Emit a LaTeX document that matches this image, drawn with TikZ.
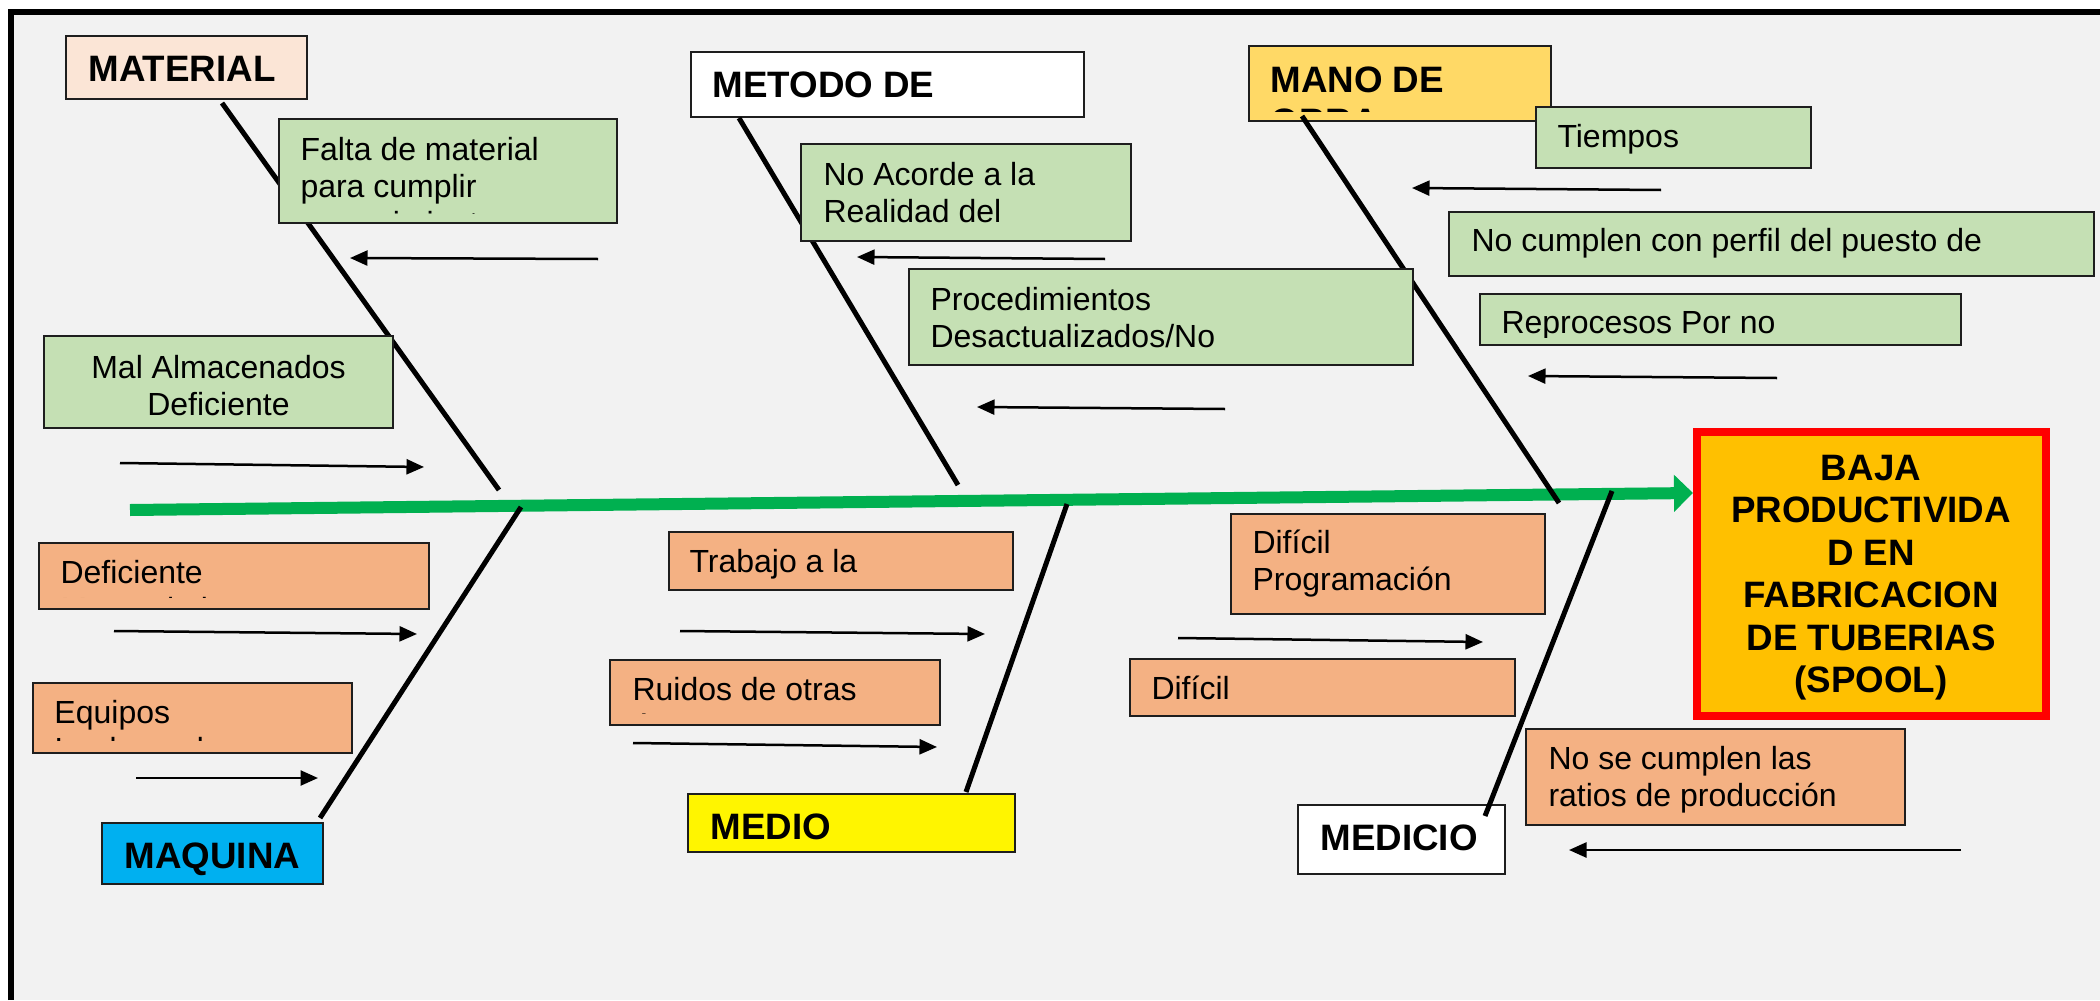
\documentclass[tikz,border=0pt]{standalone}
\usepackage{fontspec}
\setmainfont{Liberation Sans}
\usetikzlibrary{arrows.meta,fit}
\definecolor{bggrey}{HTML}{F2F2F2}
\definecolor{cgreen}{HTML}{C5E0B4}
\definecolor{corange}{HTML}{F4B183}
\definecolor{cpeach}{HTML}{FBE5D6}
\definecolor{cgold}{HTML}{FFD966}
\definecolor{ccyan}{HTML}{00B0F0}
\definecolor{cyel}{HTML}{FFF500}
\definecolor{camber}{HTML}{FFC000}
\definecolor{cspine}{HTML}{00B050}
\definecolor{cred}{HTML}{FF0000}
\definecolor{cedge}{HTML}{1E1E1E}
\newcommand\ctr[1]{\hbox to 0pt{\hss#1\hss}}
\begin{document}
\begin{tikzpicture}[x=0.4pt,y=-0.4pt,
  box/.style={draw=cedge, line width=0.6pt, inner sep=0pt},
  reg/.style={inner sep=0pt, anchor=base west, font=\fontsize{12.8}{14.8}\selectfont},
  bld/.style={inner sep=0pt, anchor=base west, font=\fontsize{14.7}{17}\selectfont\bfseries},
  bone/.style={line width=2pt, black},
  cause/.style={line width=1pt, black, -{Triangle[length=7pt,width=6pt]}},
  spine/.style={line width=4.8pt, cspine, -{Triangle[length=7.6pt,width=14.4pt]}},
]
% background and frame
\fill[white] (0,0) rectangle (2100,1000);
\useasboundingbox (0,0) rectangle (2100,1000);
\fill[bggrey] (11,12) rectangle (2100,1000);
\draw[line width=2.4pt, line join=miter] (11,1000) -- (11,12) -- (2100,12);

% spine
\coordinate (spS) at (130,510);
\coordinate (spE) at (1693,493);
\draw[spine] (spS) -- (spE);

% category boxes
\node[box, fill=cpeach, fit={(66,36) (307,99)}] (material) {};
\node[bld] (tmaterial) at (88,81) {MATERIAL};
\node[box, fill=white, fit={(691,52) (1084,117)}] (metodo) {};
\node[bld] (tmetodo) at (712,97) {METODO DE};
\node[box, fill=cgold, fit={(1249,46) (1551,121)}] (mano) {};
\begin{scope}
\clip (1249,46) rectangle (1551,111);
\node[bld] (tmano) at (1270,92) {\vtop{\hbox{MANO DE}\hbox{OBRA}}};
\end{scope}
\node[box, fill=ccyan, fit={(102,823) (323,884)}] (maquina) {};
\node[bld, anchor=base] (tmaquina) at (212.5,868) {MAQUINA};
\node[box, fill=cyel, fit={(688,794) (1015,852)}] (medio) {};
\node[bld] (tmedio) at (710,839) {MEDIO};
\node[box, fill=white, fit={(1298,805) (1505,874)}] (medicio) {};
\node[bld] (tmedicio) at (1320,850) {MEDICIO};

% bones
\coordinate (b1s) at (222,103);  \coordinate (b1e) at (499,490);
\coordinate (b2s) at (320,818);  \coordinate (b2e) at (521,507);
\coordinate (b3s) at (739,118);  \coordinate (b3e) at (958,485);
\coordinate (b4s) at (966,792);  \coordinate (b4e) at (1067,504);
\coordinate (b5s) at (1302,116); \coordinate (b5e) at (1559,503);
\coordinate (b6s) at (1485,816); \coordinate (b6e) at (1612,491);
\draw[bone] (b1s) -- (b1e);
\draw[bone] (b2s) -- (b2e);
\draw[bone] (b3s) -- (b3e);
\draw[bone] (b4s) -- (b4e);
\draw[bone] (b5s) -- (b5e);
\draw[bone] (b6s) -- (b6e);

% cause boxes (green)
\node[box, fill=cgreen, fit={(279,119) (617,223)}] (falta) {};
\begin{scope}
\clip (279,119) rectangle (617,213);
\node[reg] (tfalta) at (300,160) {\vtop{\hbox{Falta de material}\hbox{para cumplir}\hbox{requerimientos}}};
\end{scope}
\node[box, fill=cgreen, fit={(44,336) (393,428)}] (mal) {};
\node[reg, anchor=base] (tmal) at (218.5,378) {\vtop{\ctr{Mal Almacenados}\ctr{Deficiente}}};
\node[box, fill=cgreen, fit={(801,144) (1131,241)}] (acorde) {};
\node[reg] (tacorde) at (823,185) {\vtop{\hbox{No Acorde a la}\hbox{Realidad del}}};
\node[box, fill=cgreen, fit={(909,269) (1413,365)}] (proc) {};
\node[reg] (tproc) at (930,310) {\vtop{\hbox{Procedimientos}\hbox{Desactualizados/No}}};
\node[box, fill=cgreen, fit={(1536,107) (1811,168)}] (tiempos) {};
\node[reg] (ttiempos) at (1557,147) {Tiempos};
\node[box, fill=cgreen, fit={(1449,212) (2094,276)}] (perfil) {};
\node[reg] (tperfil) at (1471,251) {No cumplen con perfil del puesto de};
\node[box, fill=cgreen, fit={(1480,294) (1961,345)}] (repro) {};
\begin{scope}
\clip (1480,294) rectangle (1961,337);
\node[reg] (trepro) at (1501,333) {Reprocesos Por no};
\end{scope}

% cause boxes (orange)
\node[box, fill=corange, fit={(39,543) (429,609)}] (defic) {};
\begin{scope}
\clip (39,543) rectangle (429,597);
\node[reg] (tdefic) at (60,583) {\vtop{\hbox{Deficiente}\hbox{Mantenimiento}}};
\end{scope}
\node[box, fill=corange, fit={(33,683) (352,753)}] (equipos) {};
\begin{scope}
\clip (33,683) rectangle (352,740);
\node[reg] (tequipos) at (54,723) {\vtop{\hbox{Equipos}\hbox{Inadecuados}}};
\end{scope}
\node[box, fill=corange, fit={(669,532) (1013,590)}] (trabajo) {};
\node[reg] (ttrabajo) at (689,572) {Trabajo a la};
\node[box, fill=corange, fit={(610,660) (940,725)}] (ruidos) {};
\begin{scope}
\clip (610,660) rectangle (940,713);
\node[reg] (truidos) at (632,700) {\vtop{\hbox{Ruidos de otras}\hbox{áreas}}};
\end{scope}
\node[box, fill=corange, fit={(1231,514) (1545,614)}] (prog) {};
\node[reg] (tprog) at (1252,553) {\vtop{\hbox{Difícil}\hbox{Programación}}};
\node[box, fill=corange, fit={(1130,659) (1515,716)}] (dificil) {};
\node[reg] (tdificil) at (1151,699) {Difícil};
\node[box, fill=corange, fit={(1526,729) (1905,825)}] (ratios) {};
\node[reg] (tratios) at (1548,769) {\vtop{\hbox{No se cumplen las}\hbox{ratios de producción}}};

% cause arrows
\coordinate (a1s) at (598,259);  \coordinate (a1e) at (350,258);
\coordinate (a2s) at (120,463);  \coordinate (a2e) at (424,467);
\coordinate (a3s) at (1105,259); \coordinate (a3e) at (857,257);
\coordinate (a4s) at (1225,409); \coordinate (a4e) at (977,407);
\coordinate (a5s) at (1661,190); \coordinate (a5e) at (1412,188);
\coordinate (a6s) at (1777,378); \coordinate (a6e) at (1528,376);
\coordinate (a7s) at (114,631);  \coordinate (a7e) at (417,634);
\coordinate (a8s) at (136,778);  \coordinate (a8e) at (318,778);
\coordinate (a9s) at (680,631);  \coordinate (a9e) at (985,634);
\coordinate (a10s) at (633,743); \coordinate (a10e) at (937,747);
\coordinate (a11s) at (1178,638); \coordinate (a11e) at (1483,642);
\coordinate (a12s) at (1961,850); \coordinate (a12e) at (1569,850);
\foreach \i in {1,...,12} {\draw[cause] (a\i s) -- (a\i e);}

% effect
\node[draw=cred, line width=3.2pt, fill=camber, inner sep=0pt, fit={(1697,432) (2046,716)}] (effect) {};
\node[bld, anchor=base] (teffect) at (1871,480) {\vtop{\ctr{BAJA}\ctr{PRODUCTIVIDA}\ctr{D EN}\ctr{FABRICACION}\ctr{DE TUBERIAS}\ctr{(SPOOL)}}};
\end{tikzpicture}
\end{document}
